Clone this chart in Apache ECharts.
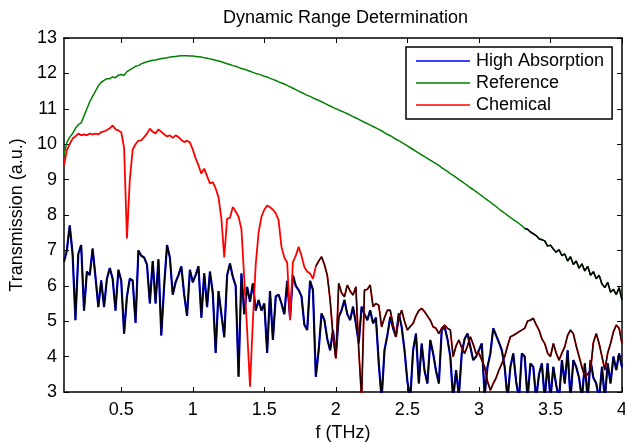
<!DOCTYPE html>
<html>
<head>
<meta charset="utf-8">
<script src="https://cdn.jsdelivr.net/npm/echarts@6.0.0/dist/echarts.min.js"></script>
<style>
  html, body { margin: 0; padding: 0; background: #ffffff; }
  #chart { width: 625px; height: 442px; }
</style>
</head>
<body>
<div id="chart"></div>
<script>
// frequency grid of the measurement (THz), one sample every 0.02 THz
const fStart = 0.1;
const fStep = 0.02;

const xTicks = [0.5, 1, 1.5, 2, 2.5, 3, 3.5, 4];

// High Absorption (noise floor)
const highAbsorption = [
  6.68, 7.0, 7.71, 6.9, 5.03, 6.9, 7.15, 5.3, 6.4, 6.3,
  7.05, 6.25, 5.4, 6.15, 5.4, 6.2, 6.5, 6.2, 5.3, 6.45,
  6.15, 4.65, 5.7, 6.2, 6.15, 4.95, 7.0, 6.85, 6.8, 6.6,
  5.5, 6.7, 5.5, 6.75, 4.6, 6.0, 7.15, 6.8, 5.75, 6.1,
  6.3, 6.55, 5.75, 5.15, 6.45, 6.1, 6.3, 6.55, 5.1, 6.35,
  5.4, 6.4, 5.8, 4.1, 5.85, 5.2, 4.55, 6.3, 6.63, 6.25,
  6.0, 3.43, 6.35, 5.2, 5.97, 5.55, 6.07, 5.3, 5.6, 5.3,
  5.5, 4.1, 5.85, 4.47, 5.7, 5.75, 5.5, 5.2, 6.14, 5.1,
  6.3, 6.0, 5.88, 5.7, 4.9, 4.75, 6.14, 5.88, 3.43, 4.18,
  5.22, 5.03, 4.5, 4.18, 4.75, 4.0, 5.12, 5.31, 5.6, 5.2,
  5.03, 5.41, 4.94, 4.37, 5.41, 5.2, 5.03, 5.31, 4.94, 5.1,
  3.81, 2.8, 4.18, 4.6, 5.12, 4.8, 4.56, 5.22, 4.84, 4.18,
  3.3, 2.8, 4.18, 4.65, 3.24, 4.37, 3.6, 3.24, 4.47, 4.09,
  3.6, 3.24, 4.75, 4.84, 4.5, 4.0, 2.8, 3.62, 2.9, 4.09,
  4.5, 4.65, 4.28, 3.9, 4.0, 4.18, 4.37, 2.9, 3.71, 4.09,
  4.8, 4.6, 4.4, 4.18, 3.71, 2.8, 3.71, 4.09, 3.3, 2.8,
  4.09, 4.0, 2.8, 3.81, 3.71, 2.8, 3.5, 3.81, 2.8, 3.81,
  2.8, 3.71, 3.2, 2.8, 3.9, 3.24, 4.18, 2.8, 3.9, 3.71,
  3.4, 2.8, 3.81, 2.8, 3.9, 3.4, 3.24, 2.8, 3.71, 2.8,
  3.81, 3.24, 4.0, 3.62, 4.09, 3.7
];

// Reference
const reference = [
  9.7, 10.05, 10.2, 10.3, 10.45, 10.55, 10.6, 10.8, 11.0, 11.2,
  11.35, 11.5, 11.65, 11.75, 11.8, 11.85, 11.85, 11.9, 11.88, 11.95,
  11.97, 11.95, 12.05, 12.1, 12.15, 12.2, 12.22, 12.27, 12.3, 12.33,
  12.35, 12.37, 12.38, 12.4, 12.42, 12.43, 12.44, 12.46, 12.47, 12.48,
  12.49, 12.5, 12.5, 12.5, 12.49, 12.49, 12.48, 12.47, 12.46, 12.44,
  12.43, 12.41, 12.39, 12.37, 12.35, 12.33, 12.3, 12.27, 12.25, 12.22,
  12.2, 12.17, 12.14, 12.12, 12.09, 12.06, 12.03, 12.0, 11.98, 11.95,
  11.92, 11.9, 11.86, 11.83, 11.8, 11.76, 11.73, 11.7, 11.66, 11.62,
  11.58, 11.54, 11.5, 11.46, 11.42, 11.38, 11.35, 11.31, 11.27, 11.24,
  11.2, 11.16, 11.12, 11.08, 11.04, 11.0, 10.97, 10.93, 10.9, 10.86,
  10.82, 10.78, 10.74, 10.7, 10.66, 10.62, 10.58, 10.54, 10.5, 10.46,
  10.42, 10.38, 10.33, 10.28, 10.24, 10.19, 10.14, 10.1, 10.05, 10.0,
  9.95, 9.9, 9.85, 9.8, 9.75, 9.7, 9.65, 9.6, 9.55, 9.5,
  9.45, 9.4, 9.34, 9.28, 9.23, 9.17, 9.12, 9.06, 9.0, 8.95,
  8.89, 8.83, 8.77, 8.72, 8.66, 8.6, 8.54, 8.48, 8.42, 8.36,
  8.3, 8.24, 8.17, 8.11, 8.05, 7.99, 7.93, 7.87, 7.82, 7.76,
  7.7, 7.62, 7.6, 7.52, 7.47, 7.42, 7.33, 7.3, 7.27, 7.12,
  7.15, 7.04, 6.95, 7.02, 6.85, 6.9, 6.7, 6.82, 6.6, 6.7,
  6.5, 6.62, 6.42, 6.55, 6.3, 6.4, 6.2, 6.3, 6.05, 5.95,
  6.1, 5.82, 5.9, 5.75, 5.95, 5.6
];

// Chemical
const chemical = [
  9.4, 9.83, 10.0, 10.16, 10.22, 10.3, 10.25, 10.28, 10.25, 10.3,
  10.28, 10.3, 10.28, 10.34, 10.36, 10.4, 10.45, 10.53, 10.42, 10.39,
  10.34, 9.9, 7.34, 9.0, 9.85, 10.0, 10.1, 10.11, 10.2, 10.3,
  10.44, 10.35, 10.3, 10.42, 10.35, 10.28, 10.22, 10.25, 10.18, 10.25,
  10.2, 10.12, 10.06, 10.1, 10.05, 9.85, 9.6, 9.4, 9.17, 9.31,
  9.1, 8.89, 8.93, 8.75, 8.5, 7.9, 6.8, 7.9, 7.92, 8.23,
  8.1, 7.95, 7.6, 6.2, 4.75, 3.15, 5.0, 6.6, 7.5, 7.95,
  8.15, 8.27, 8.22, 8.15, 8.05, 7.85, 7.1, 6.8, 6.65, 5.03,
  6.67, 6.85, 7.1, 6.85, 6.53, 6.4, 6.35, 6.2, 6.55, 6.7,
  6.82, 6.6, 6.3, 5.6, 4.6, 3.95, 6.07, 5.8, 5.69, 6.02,
  5.85, 5.74, 5.97, 4.2, 2.8, 5.88, 5.9, 6.02, 5.41, 5.5,
  5.45, 4.84, 5.1, 5.31, 5.31, 4.9, 4.56, 5.1, 5.31, 5.0,
  4.75, 4.85, 4.94, 5.15, 5.3, 5.36, 5.27, 5.15, 5.03, 4.84,
  4.8, 4.65, 4.8, 4.89, 4.8, 4.75, 4.0, 4.3, 4.47, 4.25,
  4.09, 4.3, 4.56, 4.35, 4.09, 4.1, 3.9, 3.71, 3.3, 3.05,
  3.24, 3.4, 3.62, 3.8, 4.0, 4.3, 4.56, 4.6, 4.65, 4.7,
  4.75, 4.8, 5.0, 5.03, 5.08, 4.9, 4.75, 4.5, 4.37, 4.1,
  4.0, 4.37, 4.1, 3.9, 4.1, 4.28, 4.6, 4.75, 4.65, 4.3,
  4.0, 3.7, 3.43, 3.5, 3.62, 4.4, 4.65, 4.37, 4.0, 3.62,
  4.1, 4.37, 4.7, 4.89, 4.8, 4.37
];

// below the dynamic range the traces are drawn in black on top
const chemicalNoiseFrom = 1.86;
const referenceNoiseFrom = 3.32;

function toPairs(vals) {
  return vals.map((v, i) => [+(fStart + i * fStep).toFixed(2), v]);
}
function tail(vals, from) {
  return toPairs(vals).filter(p => p[0] >= from - 1e-9);
}

const font = "'Liberation Sans', Arial, sans-serif";

function line(name, data, color, width, z) {
  return {
    name: name,
    type: 'line',
    data: data,
    showSymbol: false,
    symbol: 'none',
    z: z,
    lineStyle: { color: color, width: width },
    itemStyle: { color: color },
    emphasis: { disabled: true }
  };
}

const chart = echarts.init(document.getElementById('chart'));
chart.setOption({
  animation: false,
  backgroundColor: '#ffffff',
  title: {
    text: 'Dynamic Range Determination',
    left: 218,
    top: 4,
    textStyle: { fontFamily: font, fontSize: 18, fontWeight: 'normal', color: '#000' }
  },
  legend: {
    data: ['High Absorption', 'Reference', 'Chemical'],
    orient: 'vertical',
    left: 406,
    top: 47,
    padding: [5, 8, 5, 10],
    itemGap: 4,
    icon: 'rect',
    itemWidth: 54,
    itemHeight: 1.5,
    backgroundColor: '#ffffff',
    borderColor: '#000',
    borderWidth: 1.5,
    borderRadius: 0,
    textStyle: { fontFamily: font, fontSize: 18, lineHeight: 18, color: '#000', padding: [0, 0, 0, 1] }
  },
  grid: { left: 64, right: 3, top: 38, bottom: 50, containLabel: false, outerBoundsMode: 'none' },
  xAxis: [{
    type: 'value',
    min: 0.1,
    max: 4,
    name: 'f (THz)',
    nameLocation: 'middle',
    nameGap: 29,
    nameTextStyle: { fontFamily: font, fontSize: 18, color: '#000' },
    axisLine: { onZero: false, lineStyle: { color: '#000', width: 1.5 } },
    axisTick: { inside: true, length: 5, customValues: xTicks, lineStyle: { color: '#000', width: 1 } },
    axisLabel: { customValues: xTicks, margin: 9, fontFamily: font, fontSize: 18, color: '#000' },
    splitLine: { show: false }
  }, {
    type: 'value',
    position: 'top',
    min: 0.1,
    max: 4,
    axisLine: { onZero: false, lineStyle: { color: '#000', width: 1.5 } },
    axisTick: { inside: true, length: 5, customValues: xTicks, lineStyle: { color: '#000', width: 1 } },
    axisLabel: { show: false },
    splitLine: { show: false }
  }],
  yAxis: [{
    type: 'value',
    min: 3,
    max: 13,
    interval: 1,
    name: 'Transmission (a.u.)',
    nameLocation: 'middle',
    nameGap: 31,
    nameTextStyle: { fontFamily: font, fontSize: 18, color: '#000' },
    axisLine: { show: true, onZero: false, lineStyle: { color: '#000', width: 1.5 } },
    axisTick: { show: true, inside: true, length: 5, lineStyle: { color: '#000', width: 1 } },
    axisLabel: { margin: 7, fontFamily: font, fontSize: 18, color: '#000' },
    splitLine: { show: false }
  }, {
    type: 'value',
    position: 'right',
    min: 3,
    max: 13,
    interval: 1,
    axisLine: { show: true, onZero: false, lineStyle: { color: '#000', width: 1.5 } },
    axisTick: { show: true, inside: true, length: 5, lineStyle: { color: '#000', width: 1 } },
    axisLabel: { show: false },
    splitLine: { show: false }
  }],
  series: [
    line('High Absorption', toPairs(highAbsorption), '#0000ff', 2.2, 2),
    line('haBlack', toPairs(highAbsorption), '#000000', 1.4, 3),
    line('Reference', toPairs(reference), '#008000', 1.5, 4),
    line('Chemical', toPairs(chemical), '#ff0000', 1.8, 5),
    line('chemBlack', tail(chemical, chemicalNoiseFrom), '#1a0000', 1.3, 6),
    line('refBlack', tail(reference, referenceNoiseFrom), '#000000', 1.5, 7)
  ]
});
</script>
</body>
</html>
